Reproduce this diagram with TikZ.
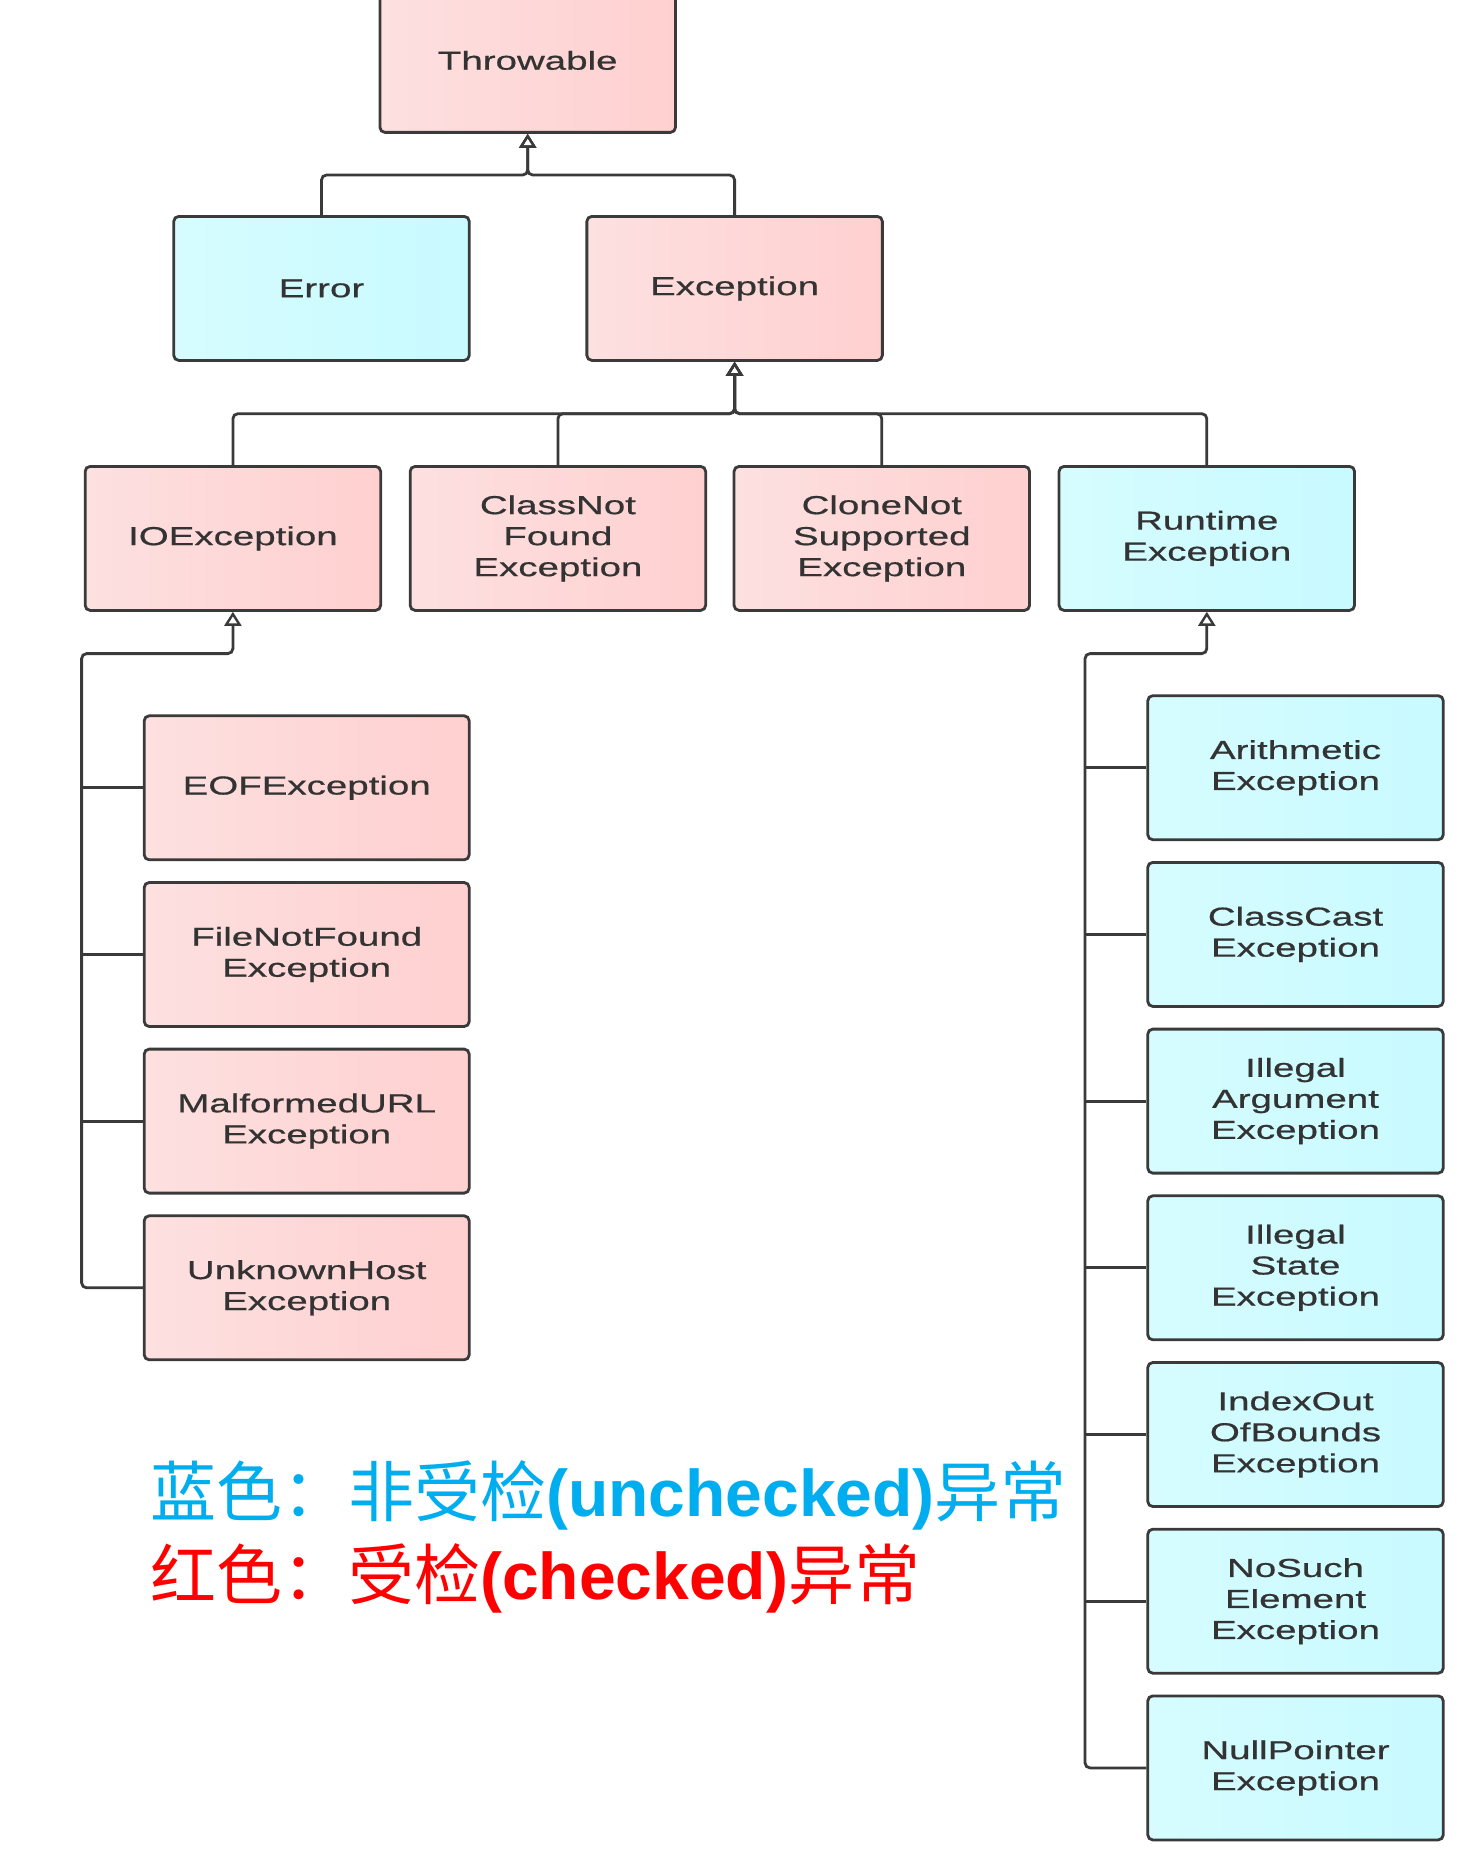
\documentclass[tikz,border=0pt]{standalone}
\usepackage{fontspec}
\usetikzlibrary{arrows.meta}
\newfontfamily\boxfont[FakeStretch=1.48,FakeBold=0.6]{Liberation Sans}
\newfontfamily\cjk{Noto Sans CJK SC}
\newfontfamily\latb{Liberation Sans}
\definecolor{pinkL}{HTML}{FDE0E0}
\definecolor{pinkR}{HTML}{FFD0D0}
\definecolor{blueL}{HTML}{D6FCFF}
\definecolor{blueR}{HTML}{C8FAFF}
\definecolor{bordercol}{HTML}{3A3A3A}
\definecolor{txtcol}{HTML}{333333}
\definecolor{legblue}{HTML}{00AEEF}
\definecolor{legred}{HTML}{FF0000}
\begin{document}
\begin{tikzpicture}[x=1pt,y=-1pt,
  box/.style={draw=bordercol, line width=2.8pt, rounded corners=5pt,
    minimum width=295.5pt, minimum height=144pt, align=center,
    font={\boxfont\fontsize{26pt}{31pt}\selectfont}, text=txtcol, inner sep=0pt},
  chk/.style={box, left color=pinkL, right color=pinkR},
  unchk/.style={box, left color=blueL, right color=blueR},
  wide/.style={minimum width=325pt},
  conn/.style={draw=bordercol, line width=2.8pt, rounded corners=5pt},
  arr/.style={conn, -{Triangle[open, length=14pt, width=17pt, line width=2.4pt]}},
  legend/.style={anchor=west, inner sep=0pt, font={\fontsize{66pt}{70pt}\selectfont}}]
\useasboundingbox (0,0) rectangle (1468,1854);
\fill[white] (0,0) rectangle (1468,1854);

% level 1-2
\node[chk] (throwable) at (527.7,60.4) {Throwable};
\node[unchk] (error) at (321.5,288.4) {Error};
\node[chk] (exception) at (734.6,288.4) {Exception};
\coordinate (j1) at (527.7,175);
\draw[arr] (error.north) |- (j1) -- (throwable.south);
\draw[arr] (exception.north) |- (j1) -- (throwable.south);

% level 3
\node[chk] (ioexc) at (232.9,538.4) {IOException};
\node[chk] (cnf) at (557.9,538.4) {ClassNot\\Found\\Exception};
\node[chk] (cns) at (881.8,538.4) {CloneNot\\Supported\\Exception};
\node[unchk] (rte) at (1206.8,538.4) {Runtime\\Exception};
\coordinate (j2) at (734.6,413.7);
\draw[arr] (ioexc.north) |- (j2) -- (exception.south);
\draw[arr] (cnf.north) |- (j2) -- (exception.south);
\draw[arr] (cns.north) |- (j2) -- (exception.south);
\draw[arr] (rte.north) |- (j2) -- (exception.south);

% IOException children
\node[chk,wide] (eof) at (306.7,787.8) {EOFException};
\node[chk,wide] (fnf) at (306.7,954.5) {FileNotFound\\Exception};
\node[chk,wide] (murl) at (306.7,1121.1) {MalformedURL\\Exception};
\node[chk,wide] (unk) at (306.7,1287.8) {UnknownHost\\Exception};
\coordinate (ioc) at (81.6,653.6);
\draw[arr] (unk.west) -| (ioc) -| (ioexc.south);
\draw[conn] (eof.west) -- (eof.west -| ioc);
\draw[conn] (fnf.west) -- (fnf.west -| ioc);
\draw[conn] (murl.west) -- (murl.west -| ioc);

% RuntimeException children
\node[unchk] (arith) at (1295.5,767.7) {Arithmetic\\Exception};
\node[unchk] (ccast) at (1295.5,934.4) {ClassCast\\Exception};
\node[unchk] (iarg) at (1295.5,1101.1) {Illegal\\Argument\\Exception};
\node[unchk] (istate) at (1295.5,1267.8) {Illegal\\State\\Exception};
\node[unchk] (ioob) at (1295.5,1434.5) {IndexOut\\OfBounds\\Exception};
\node[unchk] (nse) at (1295.5,1601.2) {NoSuch\\Element\\Exception};
\node[unchk] (npe) at (1295.5,1767.9) {NullPointer\\Exception};
\coordinate (rtc) at (1085,653.6);
\draw[arr] (npe.west) -| (rtc) -| (rte.south);
\draw[conn] (arith.west) -- (arith.west -| rtc);
\draw[conn] (ccast.west) -- (ccast.west -| rtc);
\draw[conn] (iarg.west) -- (iarg.west -| rtc);
\draw[conn] (istate.west) -- (istate.west -| rtc);
\draw[conn] (ioob.west) -- (ioob.west -| rtc);
\draw[conn] (nse.west) -- (nse.west -| rtc);

% legend
\node[legend, text=legblue] (legu) at (150,1495) {\cjk 蓝色：非受检{\latb\bfseries (unchecked)}异常};
\node[legend, text=legred] (legc) at (150,1578) {\cjk 红色：受检{\latb\bfseries (checked)}异常};
\end{tikzpicture}
\end{document}
